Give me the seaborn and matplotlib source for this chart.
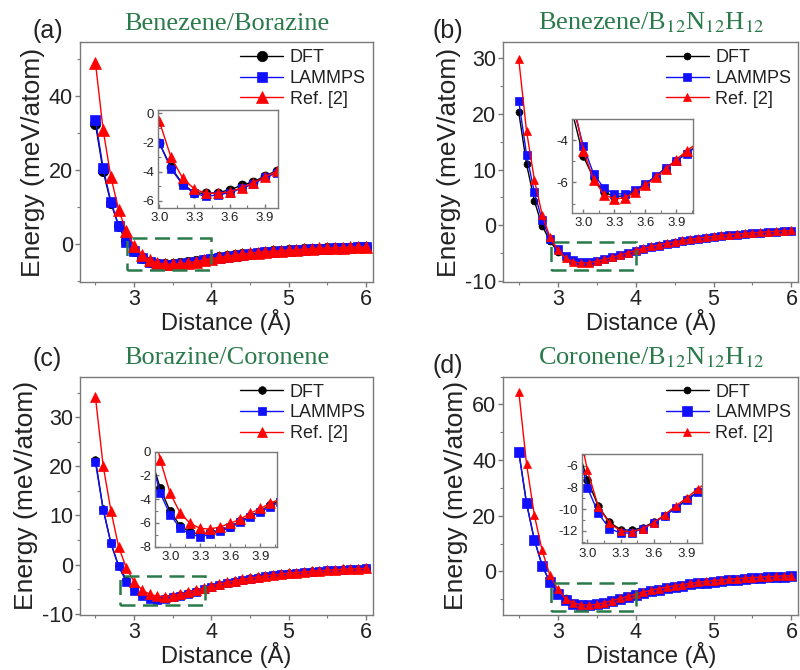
import matplotlib
matplotlib.use("Agg")
import numpy as np
import pandas as pd
import matplotlib.pyplot as plt
import seaborn as sns
from matplotlib.patches import Rectangle
from matplotlib.ticker import MultipleLocator, FormatStrFormatter

sns.set_theme(style="ticks")
plt.rcParams["font.family"] = ["Liberation Sans", "DejaVu Sans"]
plt.rcParams["mathtext.fontset"] = "stix"
plt.rcParams["axes.unicode_minus"] = False

# ---------------- data ----------------
distance = [2.5, 2.6, 2.7, 2.8, 2.9, 3.0, 3.1, 3.2, 3.3, 3.4, 3.5, 3.6, 3.7, 3.8,
            3.9, 4.0, 4.1, 4.2, 4.3, 4.4, 4.5, 4.6, 4.7, 4.8, 4.9, 5.0, 5.1, 5.2,
            5.3, 5.4, 5.5, 5.6, 5.7, 5.8, 5.9, 6.0]

dft_a = [32.5, 19.7, 11.1, 4.9, 0.7, -2.0, -3.7, -4.85, -5.45, -5.5, -5.45, -5.25,
         -4.95, -4.7, -4.3, -3.93, -3.6, -3.3, -3.03, -2.79, -2.57, -2.37, -2.19,
         -2.02, -1.87, -1.73, -1.6, -1.48, -1.37, -1.27, -1.18, -1.1, -1.02, -0.95,
         -0.89, -0.83]
lammps_a = [33.5, 20.5, 11.5, 5.0, 0.5, -2.0, -3.8, -4.9, -5.5, -5.7, -5.6, -5.45,
            -5.15, -4.85, -4.4, -4.1, -3.75, -3.43, -3.15, -2.9, -2.67, -2.46, -2.27,
            -2.09, -1.93, -1.79, -1.65, -1.53, -1.42, -1.31, -1.22, -1.13, -1.05,
            -0.98, -0.91, -0.85]
ref_a = [49.0, 30.8, 18.1, 9.3, 3.4, -0.5, -3.0, -4.45, -5.2, -5.5, -5.48, -5.4,
         -5.1, -4.77, -4.36, -3.98, -3.62, -3.3, -3.01, -2.75, -2.52, -2.31, -2.12,
         -1.95, -1.79, -1.65, -1.52, -1.4, -1.29, -1.19, -1.1, -1.02, -0.95, -0.88,
         -0.82, -0.76]

dft_b = [20.3, 11.0, 4.4, -0.1, -2.8, -4.76, -5.8, -6.45, -6.67, -6.63, -6.4, -6.1,
         -5.72, -5.3, -4.96, -4.6, -4.25, -3.92, -3.62, -3.34, -3.08, -2.84, -2.62,
         -2.42, -2.24, -2.07, -1.92, -1.78, -1.65, -1.53, -1.42, -1.32, -1.23,
         -1.15, -1.07, -1.0]
lammps_b = [22.3, 12.7, 5.9, 0.9, -2.4, -4.28, -5.6, -6.27, -6.54, -6.54, -6.35,
            -6.06, -5.7, -5.3, -4.98, -4.63, -4.28, -3.95, -3.64, -3.36, -3.1, -2.86,
            -2.64, -2.44, -2.25, -2.08, -1.93, -1.79, -1.66, -1.54, -1.43, -1.33,
            -1.24, -1.15, -1.07, -1.0]
ref_b = [29.8, 16.9, 8.2, 1.9, -2.1, -4.5, -5.86, -6.57, -6.78, -6.73, -6.46, -6.14,
         -5.75, -5.35, -4.91, -4.5, -4.14, -3.8, -3.5, -3.22, -2.96, -2.73, -2.52,
         -2.32, -2.14, -1.98, -1.83, -1.69, -1.57, -1.45, -1.35, -1.25, -1.16,
         -1.08, -1.0, -0.93]

dft_c = [21.3, 11.3, 4.4, -0.3, -3.08, -5.03, -6.24, -6.8, -6.94, -6.8, -6.6, -6.3,
         -5.87, -5.43, -4.98, -4.5, -4.1, -3.74, -3.41, -3.11, -2.84, -2.59, -2.37,
         -2.17, -1.99, -1.82, -1.67, -1.53, -1.41, -1.29, -1.19, -1.1, -1.01, -0.93,
         -0.86, -0.8]
lammps_c = [20.8, 11.2, 4.3, -0.4, -3.5, -5.3, -6.46, -6.94, -7.16, -6.94, -6.71,
            -6.38, -5.96, -5.51, -5.06, -4.62, -4.2, -3.83, -3.49, -3.18, -2.9, -2.65,
            -2.42, -2.21, -2.02, -1.85, -1.7, -1.56, -1.43, -1.31, -1.21, -1.11,
            -1.02, -0.94, -0.87, -0.8]
ref_c = [34.1, 20.1, 11.0, 3.6, -0.7, -3.5, -5.17, -6.04, -6.46, -6.52, -6.32, -6.04,
         -5.68, -5.2, -4.78, -4.36, -3.98, -3.63, -3.31, -3.02, -2.76, -2.52, -2.31,
         -2.11, -1.94, -1.78, -1.63, -1.5, -1.38, -1.27, -1.17, -1.08, -0.99, -0.92,
         -0.85, -0.78]

dft_d = [43.0, 24.4, 11.3, 2.1, -3.9, -7.3, -9.75, -11.2, -11.9, -11.95, -11.7, -11.2,
         -10.6, -9.85, -9.1, -8.35, -7.68, -7.06, -6.5, -5.98, -5.5, -5.07, -4.67,
         -4.31, -3.98, -3.68, -3.4, -3.15, -2.92, -2.71, -2.52, -2.35, -2.19, -2.04,
         -1.91, -1.79]
lammps_d = [42.9, 24.4, 11.3, 2.1, -3.9, -8.0, -10.4, -11.8, -12.2, -12.2, -11.8,
            -11.3, -10.6, -9.9, -9.2, -8.4, -7.72, -7.1, -6.53, -6.01, -5.53, -5.1,
            -4.7, -4.34, -4.01, -3.7, -3.42, -3.17, -2.94, -2.73, -2.54, -2.36, -2.2,
            -2.05, -1.92, -1.8]
ref_d = [64.6, 38.5, 20.2, 7.5, -1.4, -6.4, -9.8, -11.3, -12.0, -12.1, -11.8, -11.25,
         -10.5, -9.7, -8.95, -8.1, -7.4, -6.76, -6.18, -5.65, -5.17, -4.73, -4.33,
         -3.97, -3.64, -3.34, -3.07, -2.82, -2.6, -2.4, -2.22, -2.05, -1.9, -1.76,
         -1.63, -1.52]

titles = ["Benezene/Borazine", r"Benezene/B$_{12}$N$_{12}$H$_{12}$",
          "Borazine/Coronene", r"Coronene/B$_{12}$N$_{12}$H$_{12}$"]
panel_tags = ["(a)", "(b)", "(c)", "(d)"]
series_names = ["DFT", "LAMMPS", "Ref. [2]"]

# ---------------- styling / layout ----------------
GREEN = "#2b7a4b"
SPINE = "#7a7a7a"
TXT = "#222222"
colors = ["black", "#1010ff", "#ff0000"]
markers = ["o", "s", "^"]

panels = [
    dict(data=(dft_a, lammps_a, ref_a), pos=[0.100, 0.579, 0.366, 0.358],
         ylim=(-10.3, 54.6), ymaj=20, ymin=10,
         ms=(7.5, 7.0, 8.5), ims=(6.5, 6.0, 7.0),
         ipos=[0.1975, 0.6896, 0.150, 0.146], ixlim=(2.99, 4.01), iylim=(-6.5, 0.23),
         rect=(2.905, -7.15, 1.085, 8.75), tagxy=(0.040, 0.943)),
    dict(data=(dft_b, lammps_b, ref_b), pos=[0.629, 0.579, 0.369, 0.358],
         ylim=(-10.2, 32.9), ymaj=10, ymin=5,
         ms=(5.0, 6.0, 6.0), ims=(5.5, 6.0, 6.5),
         ipos=[0.715, 0.682, 0.151, 0.140], ixlim=(2.89, 4.06), iylim=(-7.45, -3.0),
         rect=(2.91, -7.97, 1.09, 4.92), tagxy=(0.541, 0.943)),
    dict(data=(dft_c, lammps_c, ref_c), pos=[0.100, 0.082, 0.366, 0.356],
         ylim=(-10.3, 38.3), ymaj=10, ymin=5,
         ms=(5.5, 6.0, 6.5), ims=(6.0, 6.0, 6.5),
         ipos=[0.194, 0.184, 0.1525, 0.142], ixlim=(2.85, 4.07), iylim=(-8.0, 0.0),
         rect=(2.82, -8.2, 1.10, 5.8), tagxy=(0.040, 0.453)),
    dict(data=(dft_d, lammps_d, ref_d), pos=[0.629, 0.082, 0.369, 0.356],
         ylim=(-15.7, 70.0), ymaj=20, ymin=10,
         ms=(5.0, 7.0, 6.0), ims=(5.5, 5.5, 6.0),
         ipos=[0.728, 0.189, 0.150, 0.133], ixlim=(2.955, 4.04), iylim=(-13.16, -4.93),
         rect=(2.91, -14.3, 1.10, 10.1), tagxy=(0.541, 0.443)),
]

fig = plt.figure(figsize=(8.0, 6.7), dpi=100)


def style_axes(ax, inward, label_size, pad):
    for s in ax.spines.values():
        s.set_color(SPINE)
        s.set_linewidth(1.0)
    ax.tick_params(which="both", direction="in" if inward else "out",
                   color=SPINE, labelcolor=TXT, labelsize=label_size,
                   top=False, right=False, pad=pad)
    ax.tick_params(which="major", length=3 if inward else 3.5, width=1)
    ax.tick_params(which="minor", length=2 if inward else 2.2, width=0.8)


for i, p in enumerate(panels):
    ax = fig.add_axes(p["pos"])
    for vals, name, c, m, ms in zip(p["data"], series_names, colors, markers, p["ms"]):
        sns.lineplot(x=distance, y=vals, ax=ax, color=c, marker=m, markersize=ms,
                     markeredgecolor=c, markeredgewidth=0.5, linewidth=1.0,
                     label=name, sort=False, errorbar=None)
    ax.set_xlim(2.3, 6.09)
    ax.set_ylim(*p["ylim"])
    ax.xaxis.set_major_locator(MultipleLocator(1))
    ax.xaxis.set_minor_locator(MultipleLocator(0.5))
    ax.yaxis.set_major_locator(MultipleLocator(p["ymaj"]))
    ax.yaxis.set_minor_locator(MultipleLocator(p["ymin"]))
    style_axes(ax, inward=False, label_size=15.5, pad=1.5)
    ax.set_xlabel("Distance (Å)", fontsize=17, labelpad=-1, color=TXT)
    ax.set_ylabel("Energy (meV/atom)", fontsize=19, labelpad=3, color=TXT)
    ax.set_title(titles[i], fontsize=19, color=GREEN, pad=9,
                 family=["Liberation Serif", "DejaVu Serif"])
    leg = ax.legend(loc="upper right", frameon=False, fontsize=13,
                    handlelength=2.4, handletextpad=0.35, labelspacing=0.2,
                    borderaxespad=0.2, borderpad=0.2)
    for t in leg.get_texts():
        t.set_color(TXT)
    rx, ry, rw, rh = p["rect"]
    ax.add_patch(Rectangle((rx, ry), rw, rh, fill=False, edgecolor=GREEN,
                           linewidth=1.8, linestyle=(0, (6, 3)), zorder=5))
    fig.text(p["tagxy"][0], p["tagxy"][1], panel_tags[i], fontsize=18,
             color=TXT, va="baseline")

    # inset
    iax = fig.add_axes(p["ipos"])
    for vals, c, m, ms in zip(p["data"], colors, markers, p["ims"]):
        sns.lineplot(x=distance, y=vals, ax=iax, color=c, marker=m, markersize=ms,
                     markeredgecolor=c, markeredgewidth=0.5, linewidth=1.0,
                     sort=False, errorbar=None, legend=False)
    iax.set_xlim(*p["ixlim"])
    iax.set_ylim(*p["iylim"])
    iax.set_xticks([3.0, 3.3, 3.6, 3.9])
    iax.xaxis.set_minor_locator(MultipleLocator(0.15))
    iax.yaxis.set_major_locator(MultipleLocator(2))
    iax.yaxis.set_minor_locator(MultipleLocator(1))
    iax.xaxis.set_major_formatter(FormatStrFormatter("%.1f"))
    style_axes(iax, inward=True, label_size=9.5, pad=3)
    iax.set_xlabel("")
    iax.set_ylabel("")
    iax.set_facecolor("white")

fig.savefig("out.png", dpi=100)
